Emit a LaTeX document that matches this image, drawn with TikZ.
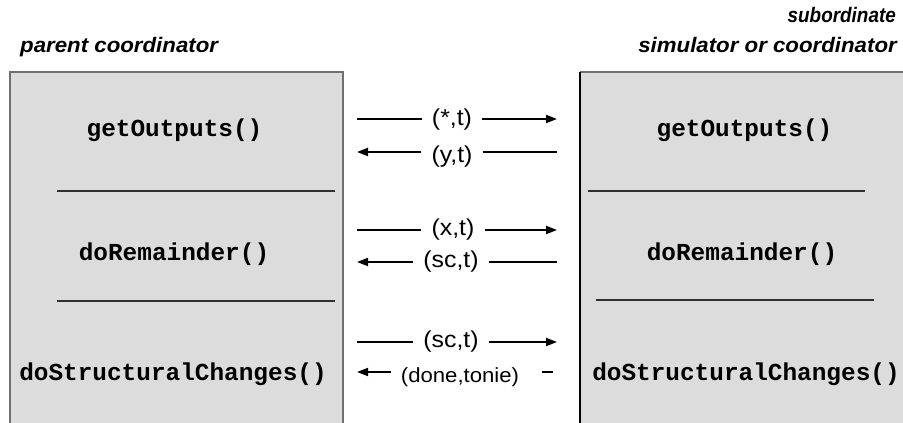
\documentclass[tikz,border=0pt]{standalone}
\usepackage{fontspec}
\setmainfont{Liberation Sans}
\newfontfamily\lblfont{Liberation Sans}[FakeStretch=1.08]
\newfontfamily\titlefont{Liberation Sans}[FakeStretch=1.06]
\newfontfamily\narrowtitlefont{Liberation Sans}[FakeStretch=0.9]
\newfontfamily\codefont{Liberation Mono}
\usetikzlibrary{arrows.meta}

\definecolor{panelfill}{HTML}{DCDCDC}
\definecolor{panelrule}{HTML}{707070}
\definecolor{divrule}{HTML}{303030}

\tikzset{
  panel/.style={fill=panelfill, draw=none, inner sep=0pt, outer sep=0pt, anchor=north west},
  greyedge/.style={draw=panelrule, line width=2pt},
  blackedge/.style={draw=black, line width=1.5pt},
  divider/.style={draw=divrule, line width=1.1pt},
  wire/.style={line width=1.9pt},
  arr/.style={wire, -{Triangle[length=11pt,width=8pt]}},
  lbl/.style={font={\lblfont\fontsize{23}{27}\selectfont}, inner xsep=10pt, inner ysep=0pt},
  smalllbl/.style={font={\lblfont\fontsize{20.5}{24}\selectfont}, inner xsep=10pt, inner ysep=0pt},
  method/.style={font={\codefont\bfseries\fontsize{24.4}{29}\selectfont}, inner sep=0pt, anchor=base},
  heading/.style={font={\titlefont\bfseries\itshape\fontsize{21}{25}\selectfont}, inner sep=0pt},
  narrowheading/.style={font={\narrowtitlefont\bfseries\itshape\fontsize{21}{25}\selectfont}, inner sep=0pt},
}

\begin{document}
\begin{tikzpicture}[x=1pt, y=-1pt]
  \useasboundingbox (0,0) rectangle (903,423);

  % the two panels, open at the bottom (and on the right for the subordinate)
  \node[panel, minimum width=333pt, minimum height=360pt] (parent) at (10,72) {};
  \node[panel, minimum width=340pt, minimum height=360pt] (sub) at (580,72) {};
  \draw[greyedge] (parent.south west) -- (parent.north west) -- (parent.north east) -- (parent.south east);
  \draw[greyedge] (sub.north west) -- (sub.north east);
  \draw[blackedge] (sub.north west) -- (sub.south west);

  % headings
  \node[heading, anchor=base west] (ptitle) at (20,52) {parent coordinator};
  \node[narrowheading, anchor=base east] (stitleA) at (896,23) {subordinate};
  \node[heading, anchor=base east] (stitleB) at (897,52) {simulator or coordinator};

  % separators inside the panels
  \draw[divider] (57,191) -- (335,191);
  \draw[divider] (57,301) -- (335,301);
  \draw[divider] (588,191) -- (865,191);
  \draw[divider] (596,300) -- (874,300);

  % method names
  \node[method] (pget) at (174.5,136) {getOutputs()};
  \node[method] (prem) at (174,260) {doRemainder()};
  \node[method] (pstr) at (173,380) {doStructuralChanges()};
  \node[method] (sget) at (744.5,136) {getOutputs()};
  \node[method] (srem) at (742,260) {doRemainder()};
  \node[method] (sstr) at (746,380) {doStructuralChanges()};

  % message ends
  \coordinate (a1) at (357,119); \coordinate (b1) at (557,119);
  \coordinate (a2) at (357,152); \coordinate (b2) at (557,152);
  \coordinate (a3) at (357,230); \coordinate (b3) at (557,230);
  \coordinate (a4) at (357,262); \coordinate (b4) at (557,262);
  \coordinate (a5) at (357,342); \coordinate (b5) at (557,342);
  \coordinate (a6) at (357,372);
  \coordinate (c6a) at (542,372); \coordinate (c6b) at (553,372);

  % messages
  \node[lbl] (l1) at (452,120) {(*,t)};
  \draw[wire] (a1) -- (a1 -| l1.west);
  \draw[arr] (b1 -| l1.east) -- (b1);

  \node[lbl] (l2) at (452,157) {(y,t)};
  \draw[arr] (a2 -| l2.west) -- (a2);
  \draw[wire] (b2 -| l2.east) -- (b2);

  \node[lbl] (l3) at (453,230) {(x,t)};
  \draw[wire] (a3) -- (a3 -| l3.west);
  \draw[arr] (b3 -| l3.east) -- (b3);

  \node[lbl] (l4) at (451,262) {(sc,t)};
  \draw[arr] (a4 -| l4.west) -- (a4);
  \draw[wire] (b4 -| l4.east) -- (b4);

  \node[lbl] (l5) at (451,342) {(sc,t)};
  \draw[wire] (a5) -- (a5 -| l5.west);
  \draw[arr] (b5 -| l5.east) -- (b5);

  \node[smalllbl] (l6) at (460,377) {(done,tonie)};
  \draw[arr] (a6 -| l6.west) -- (a6);
  \draw[wire] (c6a) -- (c6b);
\end{tikzpicture}
\end{document}
